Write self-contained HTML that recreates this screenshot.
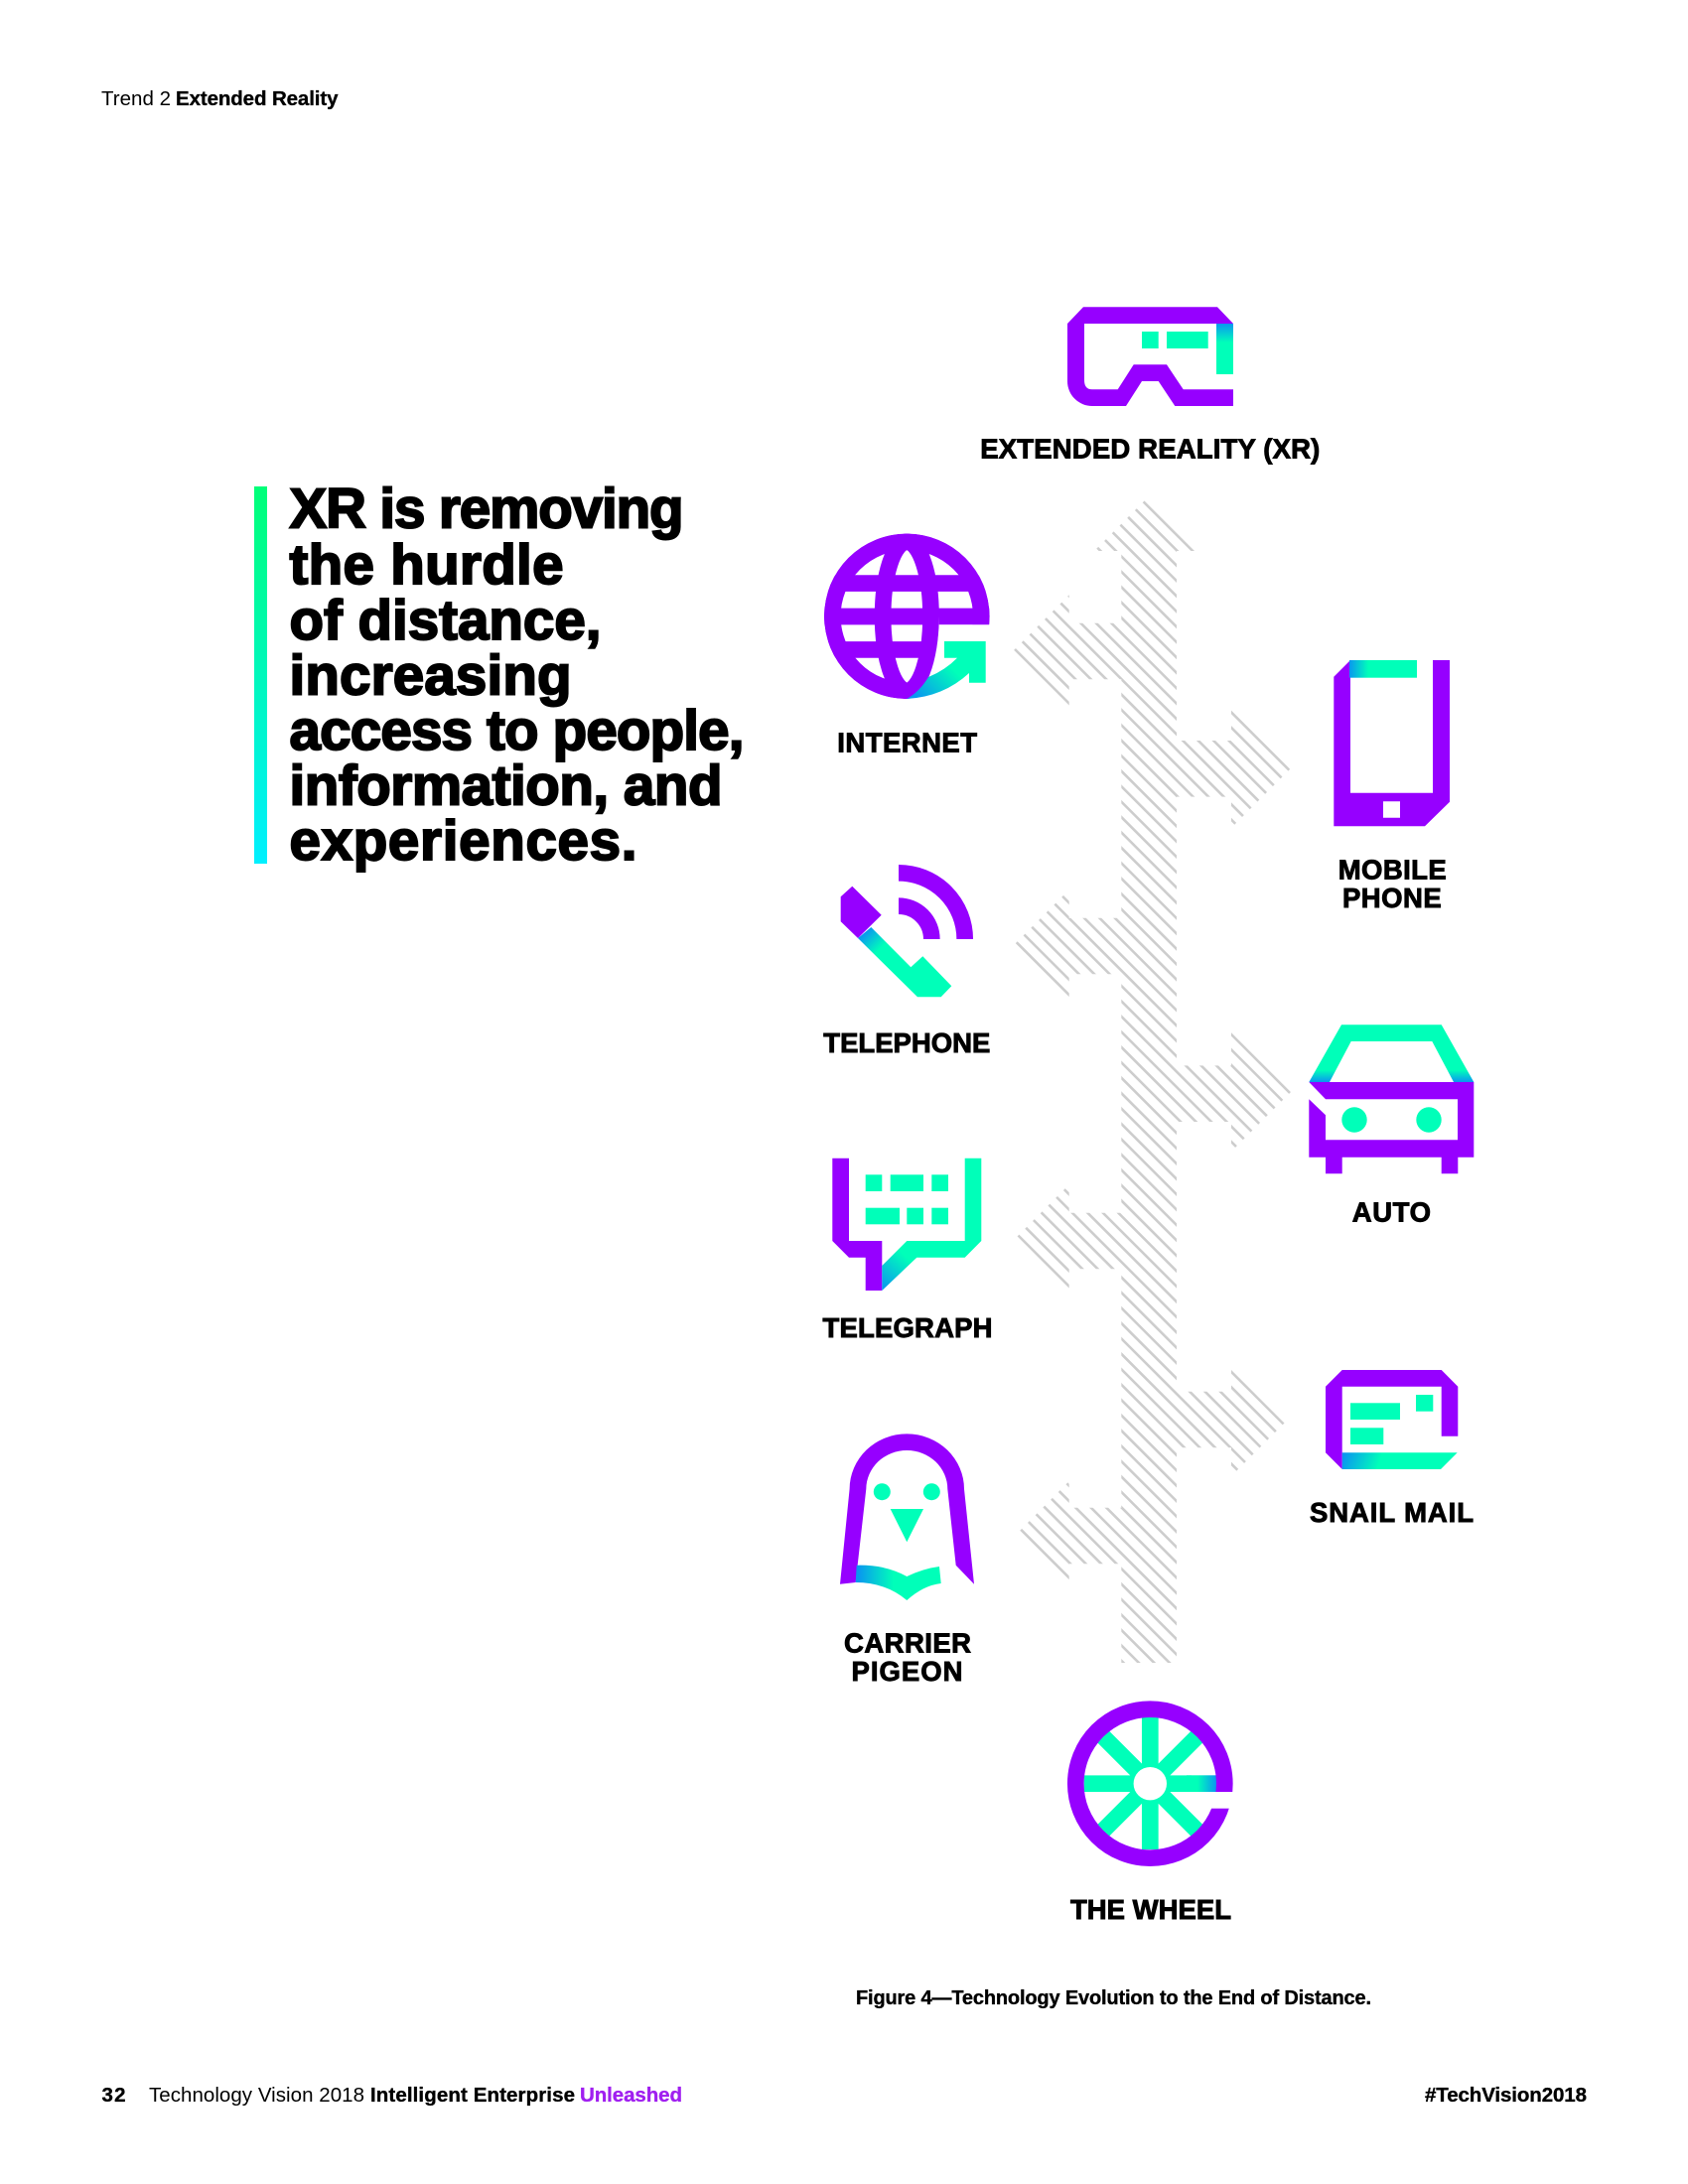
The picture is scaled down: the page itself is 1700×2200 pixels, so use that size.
<!DOCTYPE html>
<html><head><meta charset="utf-8"><style>
html,body{margin:0;padding:0;background:#fff;width:1700px;height:2200px;overflow:hidden}
svg{display:block}
text{font-family:"Liberation Sans",sans-serif;fill:#000}
.h{font-weight:700;font-size:56.5px;stroke:#000;stroke-width:2px}
.l{font-weight:700;font-size:27.5px;stroke:#000;stroke-width:.9px}
.c{font-weight:700;font-size:20px;stroke:#000;stroke-width:.35px}
.f{font-size:20.5px}
.b{font-weight:700;stroke:#000;stroke-width:.35px}
</style></head><body>
<svg width="1700" height="2200" viewBox="0 0 1700 2200" xmlns="http://www.w3.org/2000/svg">
<defs>
<linearGradient id="bar" x1="0" y1="0" x2="0" y2="1"><stop offset="0" stop-color="#00ff78"/><stop offset="1" stop-color="#00f0ff"/></linearGradient>
<linearGradient id="gXR" gradientUnits="userSpaceOnUse" x1="0" y1="326" x2="0" y2="345"><stop offset="0" stop-color="#0a96f0"/><stop offset="1" stop-color="#00ffb9"/></linearGradient>
<linearGradient id="gNet" gradientUnits="userSpaceOnUse" x1="925" y1="704" x2="958" y2="672"><stop offset="0" stop-color="#0a96f0"/><stop offset="1" stop-color="#00ffb9"/></linearGradient>
<linearGradient id="gMob" gradientUnits="userSpaceOnUse" x1="1359" y1="0" x2="1378" y2="0"><stop offset="0" stop-color="#0a96f0"/><stop offset="1" stop-color="#00ffb9"/></linearGradient>
<linearGradient id="gTel" gradientUnits="userSpaceOnUse" x1="870" y1="940" x2="886" y2="956"><stop offset="0" stop-color="#0a96f0"/><stop offset="1" stop-color="#00ffb9"/></linearGradient>
<linearGradient id="gCar" gradientUnits="userSpaceOnUse" x1="0" y1="1090" x2="0" y2="1078"><stop offset="0" stop-color="#0a96f0"/><stop offset="1" stop-color="#00ffb9"/></linearGradient>
<linearGradient id="gGr" gradientUnits="userSpaceOnUse" x1="888" y1="1298" x2="915" y2="1268"><stop offset="0" stop-color="#0a96f0"/><stop offset="1" stop-color="#00ffb9"/></linearGradient>
<linearGradient id="gMail" gradientUnits="userSpaceOnUse" x1="1352" y1="1470" x2="1386" y2="1482"><stop offset="0" stop-color="#0a96f0"/><stop offset="1" stop-color="#00ffb9"/></linearGradient>
<linearGradient id="gPig" gradientUnits="userSpaceOnUse" x1="864" y1="0" x2="900" y2="0"><stop offset="0" stop-color="#0a96f0"/><stop offset="1" stop-color="#00ffb9"/></linearGradient>
<linearGradient id="gWh" gradientUnits="userSpaceOnUse" x1="1225" y1="0" x2="1206" y2="0"><stop offset="0" stop-color="#0a96f0"/><stop offset="1" stop-color="#00ffb9"/></linearGradient>
<clipPath id="arrows"><path d="M1157 500L1212 555H1102Z M1129.3 555H1185V1675H1129.3Z
M1020 656L1076.7 599.3V627.7H1129.3V684.3H1076.7V712.7Z
M1020 953L1076.7 896.3V924.7H1129.3V981.3H1076.7V1009.7Z
M1020 1250L1076.7 1193.3V1221.7H1129.3V1278.3H1076.7V1306.7Z
M1022 1547L1076.7 1492V1518.7H1129.3V1575.3H1076.7V1602Z
M1300 774L1240 714V746H1185V802.6H1240V834Z
M1300 1100L1240 1040V1073.4H1185V1130H1240V1160Z
M1297 1430L1240 1373V1401.7H1185V1458.3H1240V1487Z"/></clipPath>
<clipPath id="globe"><circle cx="913.3" cy="620.8" r="83.3"/></clipPath>
</defs>

<!-- hatched arrows -->
<g clip-path="url(#arrows)">
<line x1="1524" y1="876" x2="900" y2="1500" stroke="#cdcdcd" stroke-width="2600" stroke-dasharray="2.6 8.325"/>
</g>

<!-- header -->
<text class="f" x="102" y="106" textLength="70">Trend 2</text>
<text class="f b" x="177" y="106" textLength="163.5">Extended Reality</text>

<!-- quote -->
<rect x="256" y="490" width="13" height="380" fill="url(#bar)"/>
<text class="h" x="291.5" y="531.7" textLength="397">XR is removing</text>
<text class="h" x="291.5" y="588" textLength="276">the hurdle</text>
<text class="h" x="291.5" y="644" textLength="314">of distance,</text>
<text class="h" x="291.5" y="699.5" textLength="284">increasing</text>
<text class="h" x="291.5" y="755" textLength="458">access to people,</text>
<text class="h" x="291.5" y="810.5" textLength="436">information, and</text>
<text class="h" x="291.5" y="866" textLength="350">experiences.</text>

<!-- XR -->
<path fill="#9600ff" d="M1091 309.3H1226L1242 326H1092V383Q1092 392.3 1100 392.3H1125.7L1141.7 367.3H1175L1191.7 392.3H1242V409H1183.3L1166.7 384H1150L1134 409H1100A25 25 0 0 1 1075 384V326Z"/>
<rect x="1225" y="326" width="17" height="51" fill="url(#gXR)"/>
<rect x="1150" y="334" width="16.7" height="17" fill="#00ffb9"/>
<rect x="1175" y="334" width="41.7" height="17" fill="#00ffb9"/>
<text class="l" x="987.3" y="461.7" textLength="342">EXTENDED REALITY (XR)</text>

<!-- Internet -->
<g clip-path="url(#globe)">
<g fill="none" stroke="#9600ff" stroke-width="16.67">
<circle cx="913.3" cy="620.8" r="75"/>
<ellipse cx="913.3" cy="620.8" rx="24.2" ry="75"/>
<path d="M825 587.6H1000M825 621H1000M825 654.4H945"/>
</g>
</g>
<path fill="#fff" d="M913.3 706V704.1A32.5 83.3 0 0 0 945.8 620.8V629.3H1002V706Z"/>
<path fill="url(#gNet)" d="M913 704Q926 697 935 682Q952 675 964 662.7H951V646H992.7V687.7H976V678Q950 702 913 704Z"/>
<text class="l" x="843.3" y="757.7" textLength="140.7">INTERNET</text>

<!-- Mobile -->
<path fill="#9600ff" fill-rule="evenodd" d="M1360 665L1343.3 681.7V832.3H1435L1460 807.7V665H1443V798.7H1360Z M1393 807.3H1410V823.7H1393Z"/>
<rect x="1359" y="665" width="68" height="17.7" fill="url(#gMob)"/>
<text class="l" x="1347.7" y="885.7" textLength="109">MOBILE</text>
<text class="l" x="1352" y="914" textLength="99.7">PHONE</text>

<!-- Telephone -->
<path fill="none" stroke="#9600ff" stroke-width="16.67" d="M905 879.3A66.7 66.7 0 0 1 971.7 946M905 912.7A33.3 33.3 0 0 1 938.3 946"/>
<path fill="#9600ff" d="M858.3 892.7L887.7 921.7L864 945L846.7 928.3V903.3Z"/>
<path fill="url(#gTel)" d="M877.3 934L917.3 974.3L929.3 963.3L958.3 993.3L947.7 1004.3H924L864 945Z"/>
<text class="l" x="829.3" y="1060" textLength="168">TELEPHONE</text>

<!-- Auto -->
<path fill="url(#gCar)" d="M1318.3 1090L1351 1032.3H1451.7L1484.3 1090H1464L1442.3 1049H1360.7L1339 1090Z"/>
<path fill="#9600ff" d="M1318.3 1090H1484.3V1165.7H1468.3V1182.3H1451.7V1165.7H1351.7V1182.3H1335V1165.7H1318.3V1107.3L1335 1123.3V1148.3H1468V1107.3H1335Z"/>
<circle cx="1364" cy="1128" r="12.7" fill="#00ffb9"/>
<circle cx="1439" cy="1128" r="12.7" fill="#00ffb9"/>
<text class="l" x="1361.7" y="1230.7" textLength="79.3">AUTO</text>

<!-- Telegraph -->
<path fill="#9600ff" d="M838.3 1166.7H855V1250H888.3V1300H871.7V1266.7H855L838.3 1250Z"/>
<path fill="url(#gGr)" d="M971.7 1166.7H988.3V1250L971.7 1266.7H923.3L888.3 1300V1275L913.3 1250H971.7Z"/>
<g fill="#00ffb9">
<rect x="871.7" y="1183.3" width="16.6" height="16.7"/><rect x="896.7" y="1183.3" width="33.3" height="16.7"/><rect x="938.3" y="1183.3" width="16.7" height="16.7"/>
<rect x="871.7" y="1216.7" width="34.3" height="16.6"/><rect x="913.3" y="1216.7" width="16.7" height="16.6"/><rect x="938.3" y="1216.7" width="16.7" height="16.6"/>
</g>
<text class="l" x="828.5" y="1347" textLength="171">TELEGRAPH</text>

<!-- Snail mail -->
<path fill="#9600ff" d="M1351.7 1380H1451.7L1468.3 1396.7V1446.7H1451.7V1396.7H1351.7V1480L1335 1463.3V1396.7Z"/>
<path fill="url(#gMail)" d="M1351.7 1463.3H1467.7L1451 1480H1351.7Z"/>
<g fill="#00ffb9">
<rect x="1360" y="1413.3" width="50" height="16.7"/><rect x="1360" y="1438.3" width="33.3" height="16.7"/><rect x="1426" y="1405" width="17.3" height="16.7"/>
</g>
<text class="l" x="1319" y="1533" textLength="165">SNAIL MAIL</text>

<!-- Pigeon -->
<path fill="#9600ff" d="M846 1595.7L855.6 1500A57.7 55.7 0 0 1 971 1500L981 1595.7L962.7 1576.7L954.3 1500A41 39 0 0 0 872.3 1500L861.7 1594Z"/>
<path fill="url(#gPig)" d="M862.7 1576.7Q892 1576 913.3 1588Q930 1580 946 1578L947.7 1595Q930 1597 913.3 1612Q892 1594 861.7 1594Z"/>
<circle cx="888.3" cy="1502.7" r="8.5" fill="#00ffb9"/>
<circle cx="938.3" cy="1502.7" r="8.5" fill="#00ffb9"/>
<path fill="#00ffb9" d="M896.7 1520H930L913.3 1553.3Z"/>
<text class="l" x="850" y="1664.5" textLength="128">CARRIER</text>
<text class="l" x="857.5" y="1693" textLength="112">PIGEON</text>

<!-- Wheel -->
<g fill="none" stroke="#00ffb9" stroke-width="16.67">
<path d="M1158.3 1730V1863M1091.7 1796.7H1200M1111 1749.4L1205.6 1844M1205.6 1749.4L1111 1844"/>
</g>
<rect x="1195" y="1788.3" width="30" height="16.7" fill="url(#gWh)"/>
<circle cx="1158.3" cy="1796.7" r="75" fill="none" stroke="#9600ff" stroke-width="16.67"/>
<rect x="1219.5" y="1805" width="30" height="16.7" fill="#fff"/>
<circle cx="1158.3" cy="1796.7" r="16.7" fill="#fff"/>
<text class="l" x="1078" y="1933" textLength="162">THE WHEEL</text>

<!-- caption -->
<text class="c" x="862" y="2019" textLength="519">Figure 4—Technology Evolution to the End of Distance.</text>

<!-- footer -->
<text class="f b" x="102.5" y="2117" textLength="24">32</text>
<text class="f" x="150" y="2117" textLength="217">Technology Vision 2018</text>
<text class="f b" x="373" y="2117" textLength="206">Intelligent Enterprise</text>
<text class="f b" x="584" y="2117" textLength="103" style="fill:#a01ff0;stroke:#a01ff0">Unleashed</text>
<text class="f b" x="1435" y="2117" textLength="163">#TechVision2018</text>
</svg>
</body></html>
